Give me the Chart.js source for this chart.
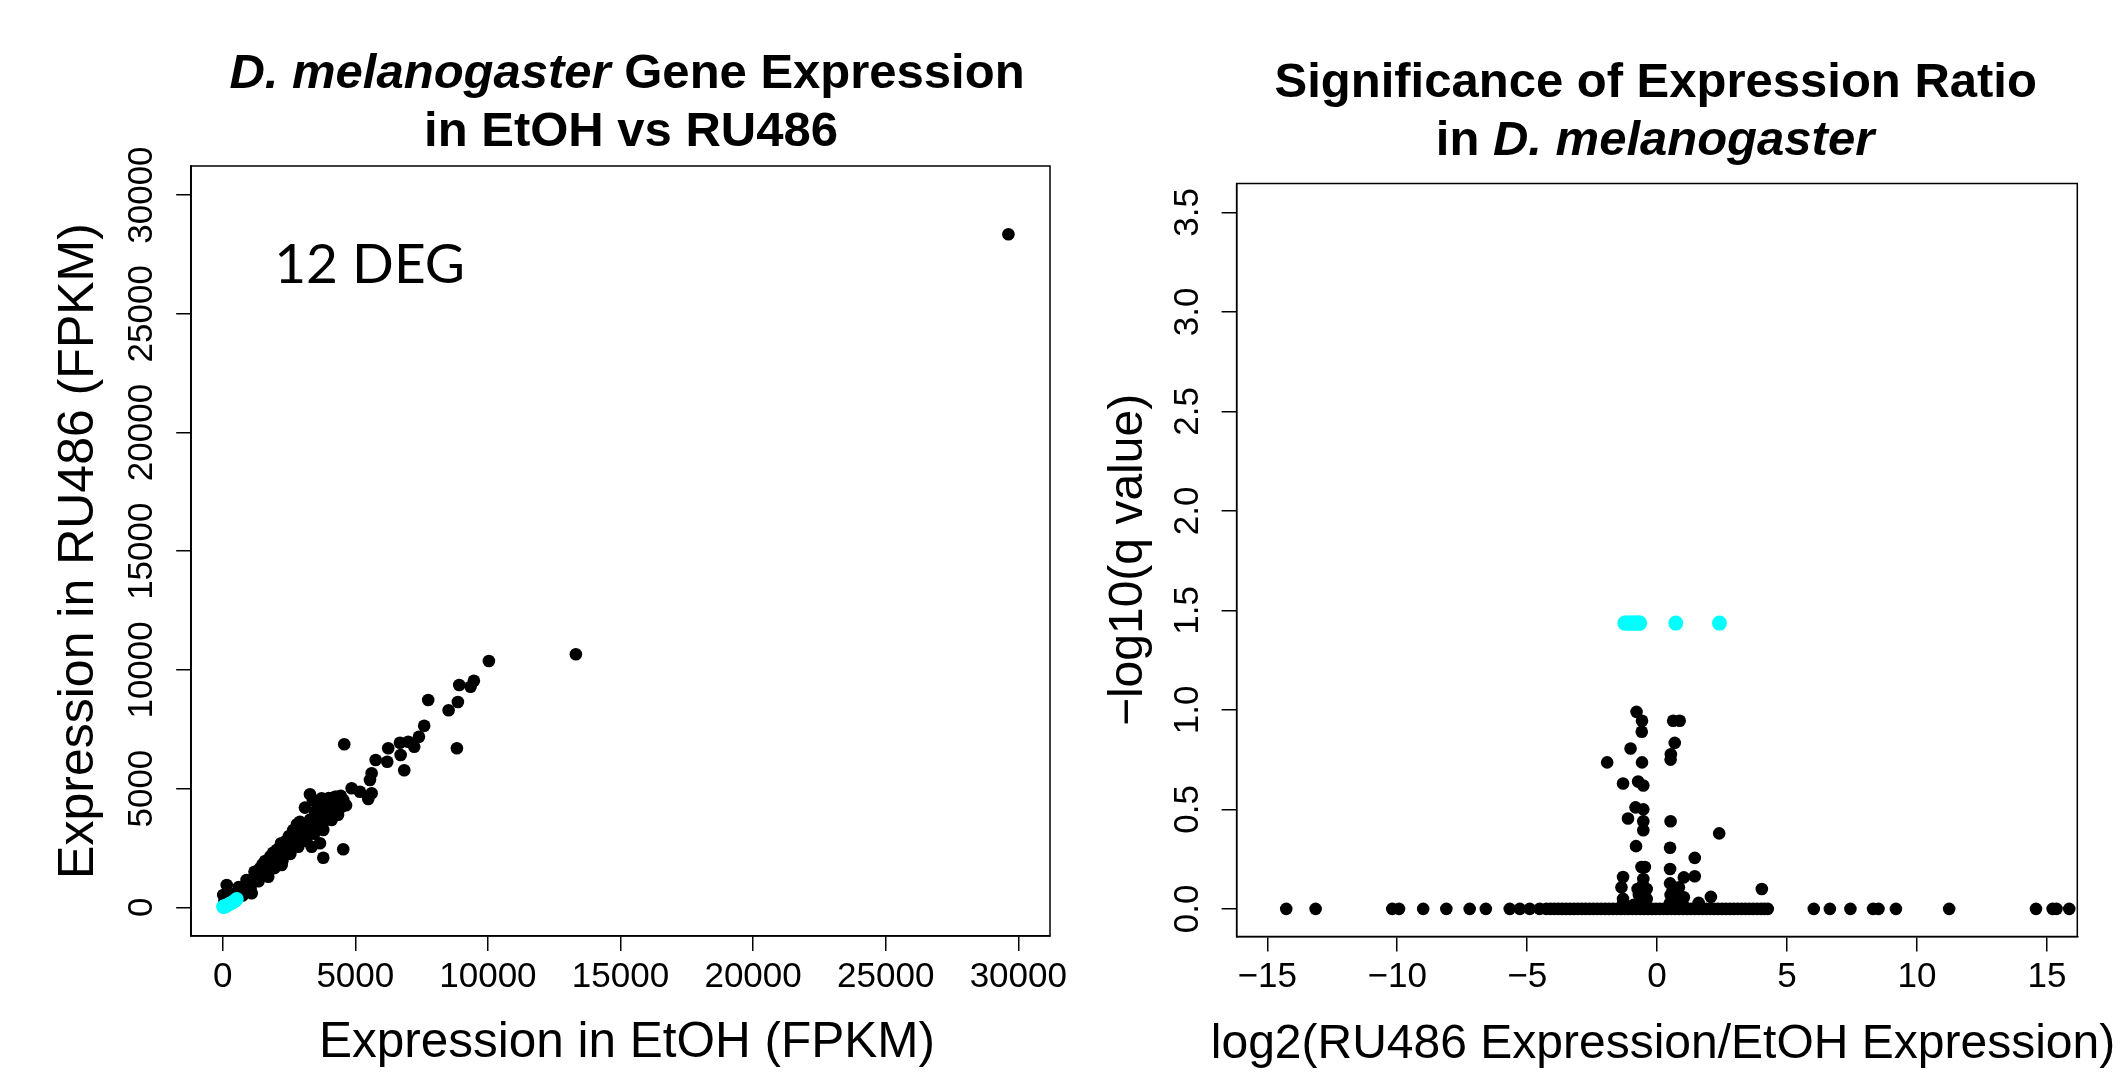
<!DOCTYPE html>
<html>
<head>
<meta charset="utf-8">
<script src="https://cdn.jsdelivr.net/npm/chart.js@4.4.1/dist/chart.umd.min.js"></script>
<style>
html,body{margin:0;padding:0;background:#fff;width:2123px;height:1072px;overflow:hidden}
#wrapL{position:absolute;left:0;top:0;width:1100px;height:1072px}
#wrapR{position:absolute;left:1100px;top:0;width:1023px;height:1072px}
canvas{display:block}
</style>
</head>
<body>
<div id="wrapL"><canvas id="cL" width="1100" height="1072" style="width:1100px;height:1072px"></canvas></div>
<div id="wrapR"><canvas id="cR" width="1023" height="1072" style="width:1023px;height:1072px"></canvas></div>
<script>
// ---------------- DATA ----------------
// Left panel: expression (FPKM) in EtOH (x) vs RU486 (y)
const etohOther = [20,40,60,90,151,120,160,200,240,280,330,380,430,480,530,600,652,700,760,820,880,950,1020,1093,1093,1150,1200,1270,1330,1406,1450,1520,1600,1719,1680,1760,1850,1930,2035,2000,2080,2150,2224,2284,2250,2320,2400,2480,2560,2661,2620,2700,2780,2860,2913,2940,3020,3100,3166,3180,3260,3290,3354,3340,3420,3479,3500,3580,3667,3660,3731,3740,3792,3792,3820,3900,3920,3980,4060,4108,4140,4233,4220,4300,4380,4485,4545,4545,4583,4862,5175,5488,5552,5616,5616,5767,6204,6242,6683,6709,6845,6995,7222,7399,7598,7750,8518,8868,8918,8831,9347,9472,10037,13317,29627,
  300,450,600,750,900,1050,1200,1350,1500,1650,1800,1950,2100,2250,2400,2550,2700,2850,3000,3150,3300,3450,3600,3750,3900,4050,4200,4350,4450,3100,3400,3700,2800,2500,2200,1900,1600,4000,4300,4650];
const ru486Other = [520,80,250,150,939,40,300,120,380,200,450,300,520,420,600,520,729,650,820,760,950,880,1100,1150,590,1080,1300,1230,1420,1643,1400,1600,1550,1289,1760,1700,1950,1880,2413,2100,2050,2250,1782,2131,2350,2280,2500,2450,2700,3256,2600,2800,2750,2950,3605,2900,3150,3080,3117,3300,3250,4760,2552,3450,3400,4027,3600,3560,2696,3750,4591,3720,3256,2089,3900,3880,3959,4050,4150,3677,4100,4659,4300,4280,4450,4237,4519,2443,6866,5012,4869,4562,5362,5644,4802,6204,6133,6697,6933,6415,5770,6975,6765,7186,7649,8731,8298,8647,9363,6697,9292,9545,10374,10657,28353,
  550,250,850,500,1150,800,1500,1100,1800,1400,2150,1650,2450,1950,2800,2250,3050,2550,3400,2800,3700,3100,4000,3400,4300,3700,4500,3900,4700,4200,4500,4300,3500,3000,2700,2300,1950,4600,4650,4300];
const etohDEG  = [15,40,70,110,150,200,250,300,360,420,480,530];
const ru486DEG = [20,10,50,40,80,100,140,160,200,240,300,350];
const leftTicks = [0,5000,10000,15000,20000,25000,30000];
const leftTickLabels = ["0","5000","10000","15000","20000","25000","30000"];

// Right panel: log2 ratio (x) vs -log10(q) (y)
const log2Other = [-14.27,-13.14,-10.19,-9.93,-9.0,-8.11,-7.21,-6.59,-5.67,-5.28,-4.90,-4.52,
  -4.26,-4.1,-3.95,-3.8,-3.65,-3.5,-3.35,-3.2,-3.05,-2.9,-2.75,-2.6,-2.45,-2.3,-2.15,-2.0,-1.85,-1.7,-1.55,-1.4,-1.25,-1.1,-0.95,-0.8,-0.65,-0.5,-0.35,-0.2,-0.05,
  0.1,0.25,0.4,0.55,0.7,0.85,1.0,1.15,1.3,1.45,1.6,1.75,1.9,2.05,2.2,2.35,2.5,2.65,2.8,2.95,3.1,3.25,3.4,3.55,3.7,3.85,4.0,4.13,4.26,
  6.03,6.65,7.44,8.31,8.52,9.19,11.24,14.58,15.22,15.37,15.86,
  -1.3,-0.9,-0.6,-0.45,0.5,0.7,1.0,1.6,-0.75,-0.55,0.6,0.9,
  -0.79,-0.58,-0.59,-1.02,-1.92,-0.58,-1.31,-0.73,-0.53,-0.83,-0.53,-1.12,-0.53,-0.53,-0.81,-0.6,-0.47,-1.31,-1.37,-0.53,-0.40,-1.31,-0.7,-0.6,-0.4,
  0.62,0.87,0.68,0.53,0.52,0.52,0.50,0.50,1.45,1.45,1.03,2.39,0.50,0.84,1.03,2.07,4.03,0.52];
const qOther = [0,0,0,0,0,0,0,0,0,0,0,0,
  0,0,0,0,0,0,0,0,0,0,0,0,0,0,0,0,0,0,0,0,0,0,0,0,0,0,0,0,0,
  0,0,0,0,0,0,0,0,0,0,0,0,0,0,0,0,0,0,0,0,0,0,0,0,0,0,0,0,0,
  0,0,0,0,0,0,0,0,0,0,0,
  0.03,0.02,0.04,0.03,0.03,0.04,0.02,0.03,0.10,0.12,0.09,0.05,
  0.99,0.945,0.89,0.806,0.736,0.736,0.63,0.64,0.62,0.51,0.50,0.454,0.44,0.395,0.315,0.21,0.21,0.16,0.108,0.15,0.10,0.05,0.07,0.06,0.05,
  0.945,0.945,0.834,0.777,0.75,0.44,0.307,0.2,0.256,0.164,0.158,0.379,0.128,0.108,0.058,0.06,0.10,0.07];
const log2DEG = [-1.24,-1.17,-1.10,-1.03,-0.96,-0.89,-0.82,-0.75,-0.70,-0.67,0.72,2.40];
const qDEG    = [1.436,1.436,1.436,1.436,1.436,1.436,1.436,1.436,1.436,1.436,1.436,1.436];
const rightXTicks = [-15,-10,-5,0,5,10,15];
const rightXTickLabels = ["\u221215","\u221210","\u22125","0","5","10","15"];
const rightYTicks = [0,0.5,1,1.5,2,2.5,3,3.5];
const rightYTickLabels = ["0.0","0.5","1.0","1.5","2.0","2.5","3.0","3.5"];

// ---------------- DRAWING ----------------
const FONT = "'Liberation Sans', Arial, Helvetica, sans-serif";
const zip = (xs, ys) => xs.map((x, i) => ({x: x, y: ys[i]}));

function drawTitleLine(ctx, segs, cx, baseline) {
  const fs = s => (s.i ? 'italic ' : '') + 'bold 49px ' + FONT;
  let total = 0;
  segs.forEach(s => { ctx.font = fs(s); s.w = ctx.measureText(s.t).width; total += s.w; });
  let x = cx - total / 2;
  ctx.textAlign = 'left'; ctx.textBaseline = 'alphabetic';
  segs.forEach(s => { ctx.font = fs(s); ctx.fillText(s.t, x, baseline); x += s.w; });
}

function panelPlugin(cfg) {
  return {
    id: 'panel' + cfg.key,
    afterDraw(chart) {
      const ctx = chart.ctx, a = chart.chartArea;
      ctx.save();
      ctx.strokeStyle = '#000'; ctx.lineWidth = 1.5;
      ctx.strokeRect(a.left, a.top, a.right - a.left, a.bottom - a.top);
      const ys = chart.scales.y;
      ctx.fillStyle = '#000';
      ctx.font = '35px ' + FONT;
      ctx.textAlign = 'center'; ctx.textBaseline = 'middle';
      cfg.yTicks.forEach((v, i) => {
        const p = ys.getPixelForValue(v);
        ctx.save(); ctx.translate(a.left - 48.7, p); ctx.rotate(-Math.PI / 2);
        ctx.fillText(cfg.yLabels[i], 0, 0); ctx.restore();
      });
      // x axis title (may overflow the plot box, as in the original)
      ctx.font = cfg.xTitleSize + 'px ' + FONT;
      ctx.textAlign = 'center'; ctx.textBaseline = 'middle';
      ctx.fillText(cfg.xTitle, cfg.xTitleX, cfg.xTitleY);
      cfg.titles.forEach(t => drawTitleLine(ctx, t.segs, t.cx, t.bl));
      if (cfg.extra) cfg.extra(chart, ctx);
      ctx.restore();
    }
  };
}

function makeOptions(o) {
  return {
    responsive: false, animation: false, devicePixelRatio: 1,
    layout: { padding: { left: 0, top: o.top, right: o.W - o.right, bottom: 0 } },
    plugins: { legend: { display: false }, tooltip: { enabled: false }, title: { display: false } },
    scales: {
      x: {
        type: 'linear', position: 'bottom', min: o.xmin, max: o.xmax,
        afterBuildTicks: s => { s.ticks = o.xTicks.map(v => ({ value: v })); },
        afterFit: s => { s.height = o.H - o.bottom; },
        ticks: { color: '#000', font: { family: FONT, size: 35, lineHeight: 1.2 }, padding: 5, maxRotation: 0, minRotation: 0, autoSkip: false,
                 callback: (v, i) => o.xLabels[i] },
        grid: { display: true, drawOnChartArea: false, drawTicks: true, tickLength: 15, color: '#000', lineWidth: 1.5 },
        border: { display: true, color: '#000', width: 1.5 },
        title: { display: false }
      },
      y: {
        type: 'linear', position: 'left', min: o.ymin, max: o.ymax,
        afterBuildTicks: s => { s.ticks = o.yTicks.map(v => ({ value: v })); },
        afterFit: s => { s.width = o.left; },
        ticks: { display: false },
        grid: { display: true, drawOnChartArea: false, drawTicks: true, tickLength: 15, color: '#000', lineWidth: 1.5 },
        border: { display: true, color: '#000', width: 1.5 },
        title: { display: true, text: o.yTitle, color: '#000', font: { family: FONT, size: o.yTitleSize, lineHeight: 1 }, padding: { top: o.yTitlePad, bottom: 0 } }
      }
    }
  };
}

// Left chart
new Chart(document.getElementById('cL'), {
  type: 'scatter',
  data: { datasets: [
    { label: 'DEG', data: zip(etohDEG, ru486DEG), order: 0, pointRadius: 7, pointBackgroundColor: '#00FFFF', pointBorderWidth: 0, showLine: false },
    { label: 'Genes', data: zip(etohOther, ru486Other), order: 1, pointRadius: 6.3, pointBackgroundColor: '#000', pointBorderWidth: 0, showLine: false }
  ]},
  options: makeOptions({ W: 1100, H: 1072, left: 191.2, right: 1050, top: 166, bottom: 936,
    xmin: -1188, xmax: 31195, ymin: -1209, ymax: 31226,
    xTicks: leftTicks, xLabels: leftTickLabels, yTicks: leftTicks,
    yTitle: 'Expression in RU486 (FPKM)', yTitleSize: 50, yTitlePad: 54 }),
  plugins: [panelPlugin({ key: 'L', yTicks: leftTicks, yLabels: leftTickLabels,
    xTitle: 'Expression in EtOH (FPKM)', xTitleSize: 49.5, xTitleX: 627, xTitleY: 1043,
    titles: [
      { segs: [{ t: 'D. melanogaster', i: true }, { t: ' Gene Expression' }], cx: 627, bl: 87.5 },
      { segs: [{ t: 'in EtOH vs RU486' }], cx: 631, bl: 146 }
    ],
    extra: (chart, ctx) => {
      const a = chart.chartArea;
      ctx.font = "55px Lato, 'Open Sans', sans-serif";
      ctx.textAlign = 'left'; ctx.textBaseline = 'alphabetic'; ctx.fillStyle = '#000';
      ctx.fillText('12 DEG', a.left + 83, a.top + 116.7);
    }
  })]
});

// Right chart
new Chart(document.getElementById('cR'), {
  type: 'scatter',
  data: { datasets: [
    { label: 'DEG', data: zip(log2DEG, qDEG), order: 0, pointRadius: 7.5, pointBackgroundColor: '#00FFFF', pointBorderWidth: 0, showLine: false },
    { label: 'Genes', data: zip(log2Other, qOther), order: 1, pointRadius: 6.3, pointBackgroundColor: '#000', pointBorderWidth: 0, showLine: false }
  ]},
  options: makeOptions({ W: 1023, H: 1072, left: 136.6, right: 977.3, top: 183.5, bottom: 936.5,
    xmin: -16.18, xmax: 16.17, ymin: -0.139, ymax: 3.645,
    xTicks: rightXTicks, xLabels: rightXTickLabels, yTicks: rightYTicks,
    yTitle: '\u2212log10(q value)', yTitleSize: 48, yTitlePad: 5 }),
  plugins: [panelPlugin({ key: 'R', yTicks: rightYTicks, yLabels: rightYTickLabels,
    xTitle: 'log2(RU486 Expression/EtOH Expression)', xTitleSize: 48, xTitleX: 563, xTitleY: 1045,
    titles: [
      { segs: [{ t: 'Significance of Expression Ratio' }], cx: 555.7, bl: 96.5 },
      { segs: [{ t: 'in ' }, { t: 'D. melanogaster', i: true }], cx: 555, bl: 155 }
    ]
  })]
});
</script>
</body>
</html>
